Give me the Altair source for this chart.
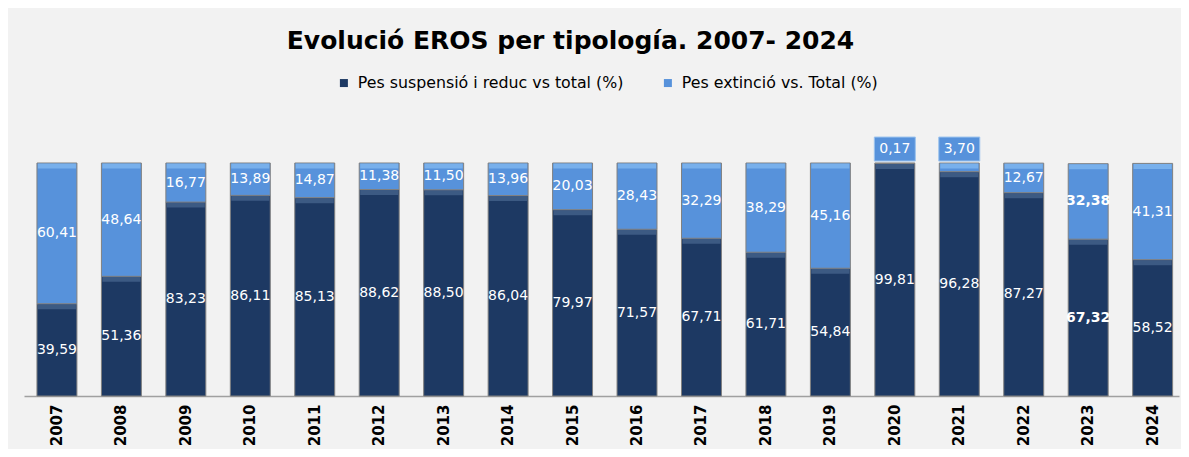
import altair as alt
import pandas as pd

years = [str(y) for y in range(2007, 2025)]
susp = [39.59, 51.36, 83.23, 86.11, 85.13, 88.62, 88.50, 86.04, 79.97,
        71.57, 67.71, 61.71, 54.84, 99.81, 96.28, 87.27, 67.32, 58.52]
ext = [60.41, 48.64, 16.77, 13.89, 14.87, 11.38, 11.50, 13.96, 20.03,
       28.43, 32.29, 38.29, 45.16, 0.17, 3.70, 12.67, 32.38, 41.31]
series_names = ["Pes suspensió i reduc vs total (%)", "Pes extinció vs. Total (%)"]
bold_years = ["2023"]

rows = []
for i, y in enumerate(years):
    rows.append({"year": y, "series": series_names[0], "ord": 1, "value": susp[i]})
    rows.append({"year": y, "series": series_names[1], "ord": 2, "value": ext[i]})
df = pd.DataFrame(rows)

DARK = "#1d3963"
LIGHT = "#5792db"

xenc = alt.X("year:N", title=None, sort=years,
             scale=alt.Scale(paddingInner=0.38, paddingOuter=0.15, align=0.67),
             axis=alt.Axis(labelAngle=-90, labelFontWeight="bold", labelFontSize=15,
                           labelColor="#000000", labelFont="DejaVu Sans",
                           ticks=False, labelPadding=8, domainColor="#a0a0a0",
                           domainWidth=1.5, grid=False))
yscale = alt.Scale(domain=[0, 100], nice=False, zero=True)

base = alt.Chart(df).transform_stack(
    stack="value", as_=["y0", "y1"], groupby=["year"], sort=[alt.SortField("ord")]
).transform_calculate(
    mid="(datum.y0 + datum.y1) / 2",
    lab="replace(format(datum.value, '.2f'), '.', ',')"
)

bars = base.mark_bar(stroke="#808080", strokeWidth=1).encode(
    x=xenc,
    y=alt.Y("y0:Q", scale=yscale, axis=None),
    y2="y1:Q",
    color=alt.Color("series:N", sort=series_names,
                    scale=alt.Scale(domain=series_names, range=[DARK, LIGHT]),
                    legend=alt.Legend(title=None, orient="none", direction="horizontal",
                                      legendX=312, legendY=-88, symbolType="square",
                                      symbolSize=64, symbolStrokeWidth=0,
                                      labelFontSize=15.8, labelFont="DejaVu Sans",
                                      labelColor="#000000", columnPadding=36,
                                      labelOffset=6, labelLimit=0)),
    order=alt.Order("ord:Q"),
)

bevel = base.transform_filter("datum.value > 1").mark_tick(
    thickness=5, size=38, yOffset=3
).encode(
    x=xenc,
    y=alt.Y("y1:Q", scale=yscale, axis=None),
    color=alt.condition("datum.ord == 1", alt.value("#4a6892"), alt.value("#86bdf4")),
)

labels = base.transform_filter(
    "datum.value >= 5 && indexof(%s, datum.year) < 0" % str(bold_years)
).mark_text(color="white", fontSize=14, font="DejaVu Sans", baseline="middle").encode(
    x=xenc, y=alt.Y("mid:Q", scale=yscale, axis=None), text="lab:N"
)

labels_bold = base.transform_filter(
    "datum.value >= 5 && indexof(%s, datum.year) >= 0" % str(bold_years)
).mark_text(color="white", fontSize=14, font="DejaVu Sans", fontWeight="bold",
            baseline="middle").encode(
    x=xenc, y=alt.Y("mid:Q", scale=yscale, axis=None), text="lab:N"
)

small = base.transform_filter("datum.value < 5")
box = small.mark_point(
    shape="M-1,-0.585H1V0.585H-1Z", size=1681, filled=True, fill=LIGHT,
    stroke="#9cc3ee", strokeWidth=1, opacity=1, yOffset=-14
).encode(x=xenc, y=alt.Y("y1:Q", scale=yscale, axis=None))
small_lab = small.mark_text(color="white", fontSize=14, font="DejaVu Sans",
                            baseline="middle", yOffset=-14).encode(
    x=xenc, y=alt.Y("y1:Q", scale=yscale, axis=None), text="lab:N"
)

chart = alt.layer(bars, bevel, labels, labels_bold, box, small_lab).properties(
    width=1155, height=233,
    title=alt.TitleParams("Evolució EROS per tipología. 2007- 2024", fontSize=25,
                          font="DejaVu Sans", fontWeight="bold", color="#000000",
                          anchor="middle", frame="group", dx=-31, offset=21),
    autosize=alt.AutoSizeParams(type="none"),
    padding={"left": 16, "top": 155, "right": 2, "bottom": 53},
    background="#f2f2f2",
).configure_view(stroke=None)

chart.save("out.html", embed_options={"renderer": "svg", "actions": False})
